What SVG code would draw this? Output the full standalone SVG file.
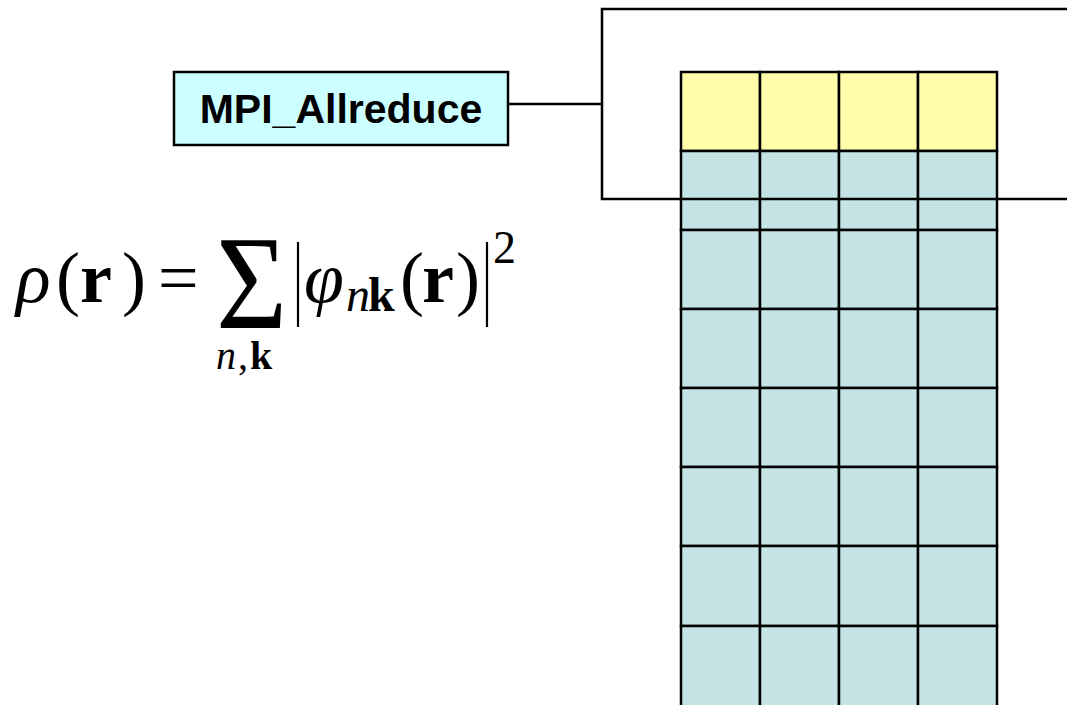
<svg xmlns="http://www.w3.org/2000/svg" width="1067" height="705" viewBox="0 0 1067 705">
  <style>
    .ln { stroke: #000; stroke-width: 2.5; fill: none; }
    .cellY { fill: #FFFCAA; stroke: #000; stroke-width: 2.5; }
    .cellB { fill: #C4E4E6; stroke: #000; stroke-width: 2.5; }
    .math { font-family: "Liberation Serif", "Times New Roman", serif; fill: #000; }
    .it { font-style: italic; }
    .bf { font-weight: bold; }
    .lbl { font-family: "Liberation Sans", Arial, sans-serif; font-weight: bold; font-size: 41px; fill: #000; }
  </style>
  <rect width="1067" height="705" fill="#fff"/>

  <!-- density formula -->
  <g id="formula" class="math">
    <text y="302" font-size="72"><tspan x="16" class="it">ρ</tspan><tspan x="56">(</tspan><tspan x="80" class="bf">r</tspan><tspan x="122">)</tspan><tspan x="158">=</tspan></text>
    <text transform="translate(216,328) scale(0.92,1)" font-size="133">Σ</text>
    <line x1="298" y1="242" x2="298" y2="327" stroke="#000" stroke-width="2.2"/>
    <text x="304" y="302" font-size="72" class="it">φ</text>
    <text y="311" font-size="48"><tspan x="346" class="it">n</tspan><tspan x="368" class="bf">k</tspan></text>
    <text y="302" font-size="72"><tspan x="400">(</tspan><tspan x="422" class="bf">r</tspan><tspan x="456">)</tspan></text>
    <line x1="487" y1="242" x2="487" y2="327" stroke="#000" stroke-width="2.2"/>
    <text x="493" y="263" font-size="46">2</text>
    <text y="369" font-size="40"><tspan x="216" class="it">n</tspan><tspan x="238">,</tspan><tspan x="250" class="bf">k</tspan></text>
  </g>

  <!-- label node -->
  <g id="allreduce">
    <rect x="174" y="72" width="334" height="73" fill="#CCFFFF" stroke="#000" stroke-width="2.5"/>
    <text x="341" y="123" text-anchor="middle" class="lbl">MPI_Allreduce</text>
  </g>

  <!-- data grid: 4 columns, first row reduced -->
  <g id="grid">
    <g>
      <rect class="cellY" x="681" y="72" width="79" height="79"/>
      <rect class="cellY" x="760" y="72" width="79" height="79"/>
      <rect class="cellY" x="839" y="72" width="79" height="79"/>
      <rect class="cellY" x="918" y="72" width="79" height="79"/>
    </g>
    <g>
      <rect class="cellB" x="681" y="151" width="79" height="79"/>
      <rect class="cellB" x="760" y="151" width="79" height="79"/>
      <rect class="cellB" x="839" y="151" width="79" height="79"/>
      <rect class="cellB" x="918" y="151" width="79" height="79"/>
      <rect class="cellB" x="681" y="230" width="79" height="79"/>
      <rect class="cellB" x="760" y="230" width="79" height="79"/>
      <rect class="cellB" x="839" y="230" width="79" height="79"/>
      <rect class="cellB" x="918" y="230" width="79" height="79"/>
      <rect class="cellB" x="681" y="309" width="79" height="79"/>
      <rect class="cellB" x="760" y="309" width="79" height="79"/>
      <rect class="cellB" x="839" y="309" width="79" height="79"/>
      <rect class="cellB" x="918" y="309" width="79" height="79"/>
      <rect class="cellB" x="681" y="388" width="79" height="79"/>
      <rect class="cellB" x="760" y="388" width="79" height="79"/>
      <rect class="cellB" x="839" y="388" width="79" height="79"/>
      <rect class="cellB" x="918" y="388" width="79" height="79"/>
      <rect class="cellB" x="681" y="467" width="79" height="79"/>
      <rect class="cellB" x="760" y="467" width="79" height="79"/>
      <rect class="cellB" x="839" y="467" width="79" height="79"/>
      <rect class="cellB" x="918" y="467" width="79" height="79"/>
      <rect class="cellB" x="681" y="546" width="79" height="80"/>
      <rect class="cellB" x="760" y="546" width="79" height="80"/>
      <rect class="cellB" x="839" y="546" width="79" height="80"/>
      <rect class="cellB" x="918" y="546" width="79" height="80"/>
      <rect class="cellB" x="681" y="626" width="79" height="90"/>
      <rect class="cellB" x="760" y="626" width="79" height="90"/>
      <rect class="cellB" x="839" y="626" width="79" height="90"/>
      <rect class="cellB" x="918" y="626" width="79" height="90"/>
    </g>
  </g>

  <!-- connectors: label to bracket enclosing the reduced rows -->
  <g id="connectors">
    <line class="ln" x1="508" y1="104" x2="602" y2="104"/>
    <polyline class="ln" points="1070,9 602,9 602,199 1070,199"/>
  </g>
</svg>
